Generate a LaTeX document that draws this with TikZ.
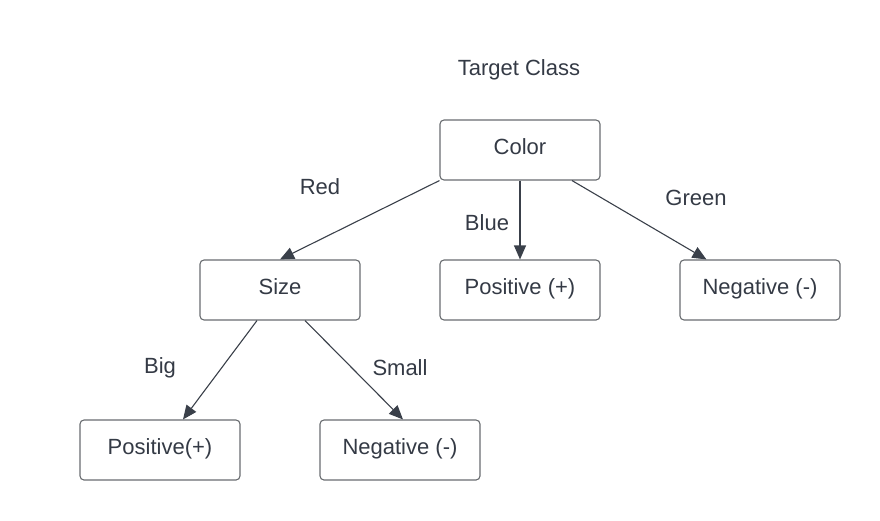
\documentclass[tikz,border=0pt]{standalone}
\usepackage{fontspec}
\setmainfont{Liberation Sans}
\usetikzlibrary{arrows.meta,calc}
\definecolor{txt}{RGB}{52,58,69}
\definecolor{bord}{RGB}{105,108,112}
\definecolor{edge}{RGB}{58,64,74}
\tikzset{
  box/.style={draw=bord, line width=1.1pt, rounded corners=4pt, minimum width=160pt, minimum height=60pt, inner sep=0pt, text height=8.6pt, text depth=0pt, text=txt, font=\fontsize{22}{26}\selectfont},
  lbl/.style={text=txt, font=\fontsize{22}{26}\selectfont, inner sep=0pt},
  conn/.style={draw=edge, line width=1.1pt, -{Triangle[length=14pt,width=12pt]}}
}
\begin{document}
\begin{tikzpicture}[x=1pt,y=-1pt]
\useasboundingbox (0,0) rectangle (880,520);
\node[lbl] (title) at (519,70) {Target Class};
\node[box] (color) at (520,150) {Color};
\node[box] (size) at (280,290) {Size};
\node[box] (pos) at (520,290) {Positive (+)};
\node[box] (neg) at (760,290) {Negative (-)};
\node[box] (pos2) at (160,450) {Positive(+)};
\node[box] (neg2) at (400,450) {Negative (-)};
\node[lbl] (red) at (320,187) {Red};
\node[lbl] (blue) at (487,223) {Blue};
\node[lbl] (green) at (696,198) {Green};
\node[lbl] (big) at (160,368) {Big};
\node[lbl] (small) at (400,368) {Small};
\coordinate (cg) at ($(color.south)+(52,0)$);
\coordinate (ng) at ($(neg.north west)+(27,0)$);
\coordinate (sl) at ($(size.south)+(-23,0)$);
\coordinate (sr) at ($(size.south)+(25,0)$);
\coordinate (pl) at ($(pos2.north)+(23,0)$);
\coordinate (nr) at ($(neg2.north)+(3,0)$);
\draw[conn] (color.south west) -- (size.north);
\draw[conn] (color.south) -- (pos.north);
\draw[conn] (cg) -- (ng);
\draw[conn] (sl) -- (pl);
\draw[conn] (sr) -- (nr);
\end{tikzpicture}
\end{document}
